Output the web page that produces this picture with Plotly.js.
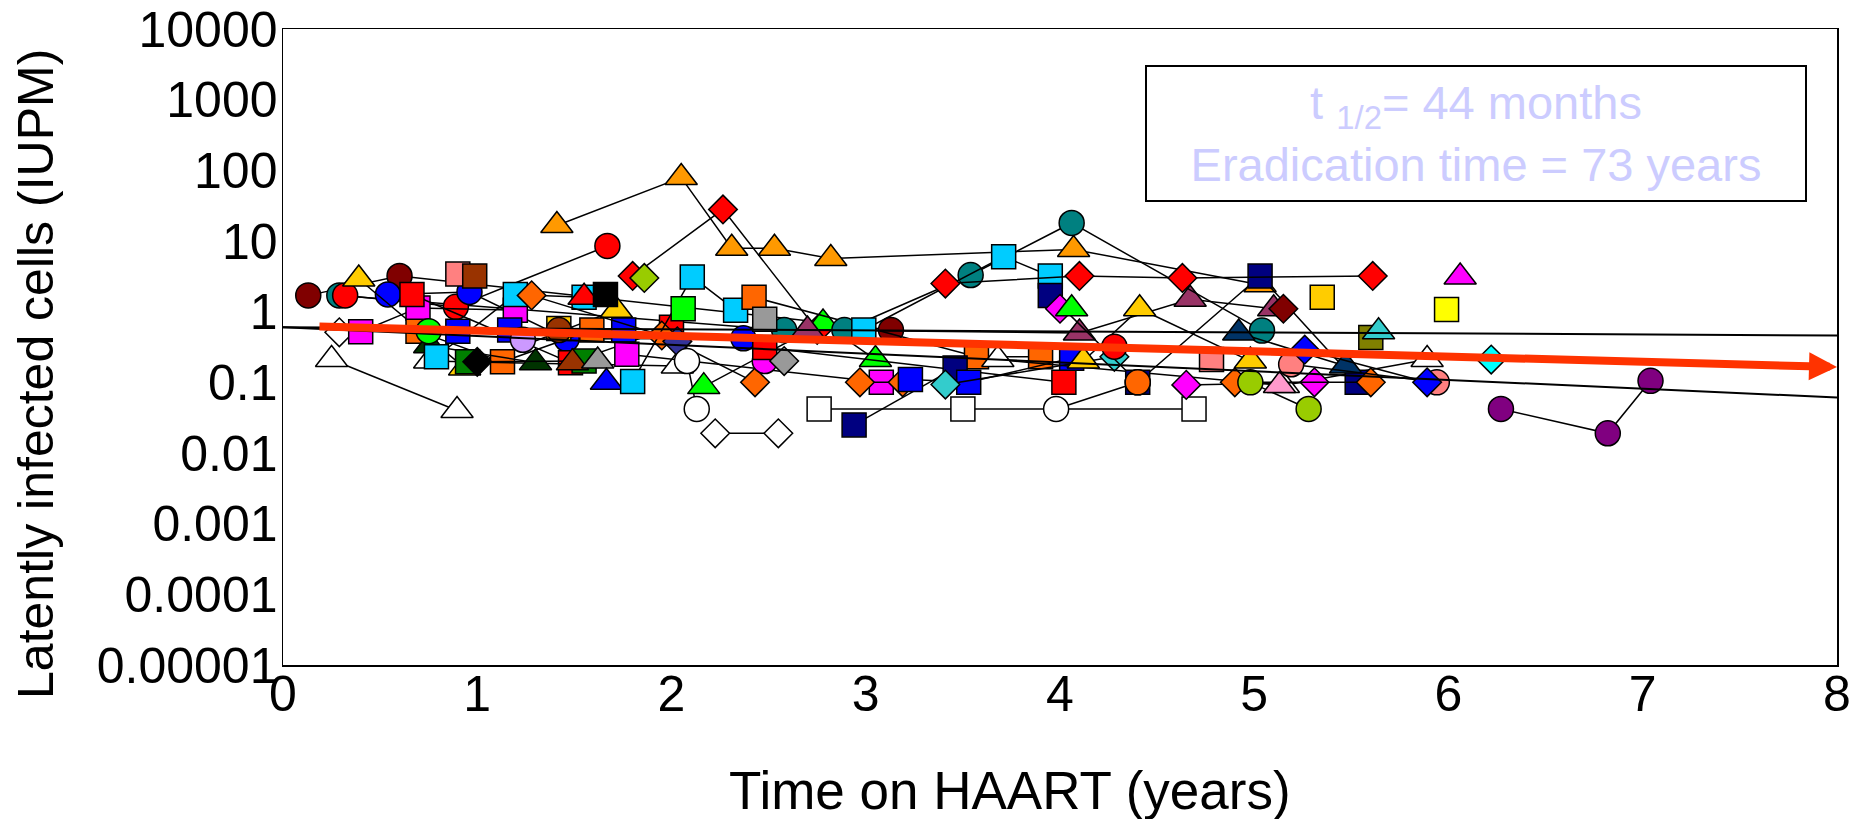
<!DOCTYPE html>
<html>
<head>
<meta charset="utf-8">
<script src="https://cdn.plot.ly/plotly-3.0.1.min.js"></script>
<style>html,body{margin:0;padding:0;background:#fff;}#chart{width:1864px;height:819px;}</style>
</head>
<body>
<div id="chart"></div>
<script>
// ---------- axis tick labels ----------
const xTickVals = [0, 1, 2, 3, 4, 5, 6, 7, 8];
const yTickVals = [0.00001, 0.0001, 0.001, 0.01, 0.1, 1, 10, 100, 1000, 10000];
const yTickText = ['0.00001', '0.0001', '0.001', '0.01', '0.1', '1', '10', '100', '1000', '10000'];

// ---------- patient data: time on HAART (years), IUPM ----------
const maroonCircle_t = [0.13, 0.60, 3.13];        const maroonCircle_v = [1.7, 3.2, 0.55];
const tealCircleA_t = [0.29, 2.58];               const tealCircleA_v = [1.7, 0.55];
const tealCircleB_t = [2.89, 3.54, 4.06, 5.04];   const tealCircleB_v = [0.55, 3.3, 18, 0.54];
const redCircleA_t = [0.32, 0.89, 1.67];          const redCircleA_v = [1.7, 1.17, 8.5];
const redCircleB_t = [4.28];                      const redCircleB_v = [0.32];
const blueCircle_t = [0.54, 0.96, 1.46, 2.37];    const blueCircle_v = [1.75, 1.9, 0.41, 0.42];
const whiteCircleA_t = [2.08, 2.13];              const whiteCircleA_v = [0.2, 0.042];
const whiteCircleB_t = [3.98, 4.40];              const whiteCircleB_v = [0.042, 0.1];
const limeCircle_t = [0.75];                      const limeCircle_v = [0.53];
const lavenderCircle_t = [1.235];                 const lavenderCircle_v = [0.4];
const brownCircle_t = [1.42];                     const brownCircle_v = [0.55];
const magentaCircle_t = [2.48];                   const magentaCircle_v = [0.2];
const orangeCircle_t = [4.40];                    const orangeCircle_v = [0.1];
const ygCircle_t = [4.98, 5.28];                  const ygCircle_v = [0.1, 0.042];
const salmonCircle_t = [5.19, 5.94];              const salmonCircle_v = [0.18, 0.1];
const purpleCircle_t = [6.27, 6.82, 7.04];        const purpleCircle_v = [0.042, 0.019, 0.105];

const magentaSqA_t = [0.40, 0.695, 1.196];        const magentaSqA_v = [0.52, 1.13, 1.05];
const magentaSqB_t = [1.77, 3.08];                const magentaSqB_v = [0.25, 0.1];
const redSqA_t = [0.664, 1.48, 2.0];              const redSqA_v = [1.75, 0.19, 0.6];
const redSqB_t = [2.48, 4.02];                    const redSqB_v = [0.31, 0.1];
const orangeSqA_t = [0.695, 1.13, 1.59];          const orangeSqA_v = [0.53, 0.195, 0.55];
const orangeSqB_t = [2.425, 3.57, 3.90];          const orangeSqB_v = [1.6, 0.23, 0.23];
const cyanSqA_t = [0.79, 1.196, 1.55];            const cyanSqA_v = [0.23, 1.75, 1.6];
const cyanSqB_t = [1.80, 2.107, 2.33];            const cyanSqB_v = [0.103, 3.1, 1.05];
const cyanSqC_t = [2.99, 3.71, 3.95];             const cyanSqC_v = [0.55, 6.0, 3.2];
const salmonSqA_t = [0.90];                       const salmonSqA_v = [3.4];
const salmonSqB_t = [4.78];                       const salmonSqB_v = [0.21];
const brownSq_t = [0.987];                        const brownSq_v = [3.2];
const blueSqA_t = [0.90, 1.167, 1.754];           const blueSqA_v = [0.53, 0.55, 0.55];
const blueSqB_t = [3.23, 3.53, 4.06];             const blueSqB_v = [0.11, 0.1, 0.22];
const greenSq_t = [0.95, 1.55];                   const greenSq_v = [0.195, 0.2];
const blackSq_t = [1.66];                         const blackSq_v = [1.75];
const goldSqA_t = [1.42];                         const goldSqA_v = [0.58];
const goldSqB_t = [5.35];                         const goldSqB_v = [1.6];
const limeSq_t = [2.06];                          const limeSq_v = [1.1];
const graySq_t = [2.48];                          const graySq_v = [0.78];
const navySqA_t = [2.94, 3.46];                   const navySqA_v = [0.025, 0.16];
const navySqB_t = [3.95, 4.40, 5.03, 5.53];       const navySqB_v = [1.7, 0.1, 3.2, 0.1];
const whiteSq_t = [2.76, 3.50, 4.69];             const whiteSq_v = [0.042, 0.042, 0.042];
const oliveSq_t = [5.60];                         const oliveSq_v = [0.43];
const yellowSq_t = [5.99];                        const yellowSq_v = [1.07];

const whiteTriA_t = [0.25, 0.896];                const whiteTriA_v = [0.21, 0.04];
const whiteTriB_t = [0.755, 2.03];                const whiteTriB_v = [0.2, 0.17];
const whiteTriC_t = [3.68, 5.15, 5.89];           const whiteTriC_v = [0.21, 0.09, 0.21];
const goldTriA_t = [0.39, 0.935, 1.716];          const goldTriA_v = [2.9, 0.16, 1.05];
const goldTriB_t = [4.12, 4.41, 4.98];            const goldTriB_v = [0.2, 1.1, 0.2];
const orangeTri_t = [1.41, 2.05, 2.31, 2.53, 2.82, 4.07, 5.03];
const orangeTri_v = [16.6, 79, 7.9, 7.9, 5.65, 7.6, 2.4];
const dkGreenTri_t = [0.755, 1.30];               const dkGreenTri_v = [0.33, 0.19];
const brownTri_t = [1.49];                        const brownTri_v = [0.19];
const redTri_t = [1.55];                          const redTri_v = [1.6];
const grayTri_t = [1.62];                         const grayTri_v = [0.2];
const blueTri_t = [1.665];                        const blueTri_v = [0.1];
const limeTriA_t = [2.166, 2.78, 3.05];           const limeTriA_v = [0.087, 0.69, 0.21];
const limeTriB_t = [4.06];                        const limeTriB_v = [1.1];
const plumTri_t = [2.70, 4.10, 4.67, 5.10];       const plumTri_v = [0.55, 0.5, 1.5, 1.1];
const navyTri_t = [4.92, 5.47];                   const navyTri_v = [0.5, 0.17];
const pinkTri_t = [5.13];                         const pinkTri_v = [0.09];
const turqTri_t = [5.64];                         const turqTri_v = [0.52];
const magentaTri_t = [6.06];                      const magentaTri_v = [3.1];

const whiteDiaA_t = [0.29];                       const whiteDiaA_v = [0.51];
const whiteDiaB_t = [2.225, 2.55];                const whiteDiaB_v = [0.019, 0.019];
const blackDia_t = [1.0];                         const blackDia_v = [0.195];
const orangeDiaA_t = [1.28, 1.95, 2.43];          const orangeDiaA_v = [1.7, 0.46, 0.1];
const orangeDiaB_t = [2.97, 3.19];                const orangeDiaB_v = [0.1, 0.1];
const orangeDiaC_t = [4.90, 5.60];                const orangeDiaC_v = [0.1, 0.1];
const redDiaA_t = [1.80, 2.265, 2.75];            const redDiaA_v = [3.2, 28, 0.55];
const redDiaB_t = [3.41, 4.10, 4.63, 5.61];       const redDiaB_v = [2.5, 3.2, 3.0, 3.2];
const ygDia_t = [1.86];                           const ygDia_v = [3.0];
const indigoDia_t = [2.03];                       const indigoDia_v = [0.38];
const grayDia_t = [2.58];                         const grayDia_v = [0.2];
const turqDia_t = [3.41, 4.28];                   const turqDia_v = [0.093, 0.23];
const magentaDiaA_t = [4.0];                      const magentaDiaA_v = [1.1];
const magentaDiaB_t = [4.65, 5.31];               const magentaDiaB_v = [0.092, 0.1];
const maroonDia_t = [5.15];                       const maroonDia_v = [1.1];
const blueDia_t = [5.26, 5.89];                   const blueDia_v = [0.29, 0.1];
const cyanDia_t = [6.22];                         const cyanDia_v = [0.21];

// ---------- fitted decay and bounds ----------
const fit_t = [0.18, 8];        const fit_v = [0.62, 0.165];
const upper_t = [0, 8];         const upper_v = [0.6, 0.46];
const lower_t = [0, 8];         const lower_v = [0.6, 0.061];

// ---------- table linking data with marker style ----------
const patients = [
  [maroonCircle_t, maroonCircle_v, 'circle', '#800000'],
  [tealCircleA_t, tealCircleA_v, 'circle', '#008080'],
  [redCircleA_t, redCircleA_v, 'circle', '#FF0000'],
  [blueCircle_t, blueCircle_v, 'circle', '#0000FF'],
  [whiteTriA_t, whiteTriA_v, 'triangle-up', '#FFFFFF'],
  [whiteDiaA_t, whiteDiaA_v, 'diamond', '#FFFFFF'],
  [goldTriA_t, goldTriA_v, 'triangle-up', '#FFCC00'],
  [magentaSqA_t, magentaSqA_v, 'square', '#FF00FF'],
  [redSqA_t, redSqA_v, 'square', '#FF0000'],
  [orangeSqA_t, orangeSqA_v, 'square', '#FF6600'],
  [whiteTriB_t, whiteTriB_v, 'triangle-up', '#FFFFFF'],
  [dkGreenTri_t, dkGreenTri_v, 'triangle-up', '#003300'],
  [limeCircle_t, limeCircle_v, 'circle', '#00FF00'],
  [cyanSqA_t, cyanSqA_v, 'square', '#00CCFF'],
  [salmonSqA_t, salmonSqA_v, 'square', '#FF8080'],
  [brownSq_t, brownSq_v, 'square', '#993300'],
  [blueSqA_t, blueSqA_v, 'square', '#0000FF'],
  [greenSq_t, greenSq_v, 'square', '#008000'],
  [blackDia_t, blackDia_v, 'diamond', '#000000'],
  [orangeDiaA_t, orangeDiaA_v, 'diamond', '#FF6600'],
  [lavenderCircle_t, lavenderCircle_v, 'circle', '#CC99FF'],
  [goldSqA_t, goldSqA_v, 'square', '#FFCC00'],
  [brownCircle_t, brownCircle_v, 'circle', '#993300'],
  [orangeTri_t, orangeTri_v, 'triangle-up', '#FF9900'],
  [redTri_t, redTri_v, 'triangle-up', '#FF0000'],
  [brownTri_t, brownTri_v, 'triangle-up', '#993300'],
  [grayTri_t, grayTri_v, 'triangle-up', '#999999'],
  [blackSq_t, blackSq_v, 'square', '#000000'],
  [blueTri_t, blueTri_v, 'triangle-up', '#0000FF'],
  [magentaSqB_t, magentaSqB_v, 'square', '#FF00FF'],
  [cyanSqB_t, cyanSqB_v, 'square', '#00CCFF'],
  [redDiaA_t, redDiaA_v, 'diamond', '#FF0000'],
  [ygDia_t, ygDia_v, 'diamond', '#99CC00'],
  [indigoDia_t, indigoDia_v, 'diamond', '#333399'],
  [whiteCircleA_t, whiteCircleA_v, 'circle', '#FFFFFF'],
  [whiteDiaB_t, whiteDiaB_v, 'diamond', '#FFFFFF'],
  [limeSq_t, limeSq_v, 'square', '#00FF00'],
  [limeTriA_t, limeTriA_v, 'triangle-up', '#00FF00'],
  [orangeSqB_t, orangeSqB_v, 'square', '#FF6600'],
  [graySq_t, graySq_v, 'square', '#999999'],
  [magentaCircle_t, magentaCircle_v, 'circle', '#FF00FF'],
  [redSqB_t, redSqB_v, 'square', '#FF0000'],
  [grayDia_t, grayDia_v, 'diamond', '#999999'],
  [plumTri_t, plumTri_v, 'triangle-up', '#993366'],
  [tealCircleB_t, tealCircleB_v, 'circle', '#008080'],
  [cyanSqC_t, cyanSqC_v, 'square', '#00CCFF'],
  [whiteSq_t, whiteSq_v, 'square', '#FFFFFF'],
  [navySqA_t, navySqA_v, 'square', '#000080'],
  [orangeDiaB_t, orangeDiaB_v, 'diamond', '#FF6600'],
  [blueSqB_t, blueSqB_v, 'square', '#0000FF'],
  [turqDia_t, turqDia_v, 'diamond', '#33CCCC'],
  [whiteTriC_t, whiteTriC_v, 'triangle-up', '#FFFFFF'],
  [whiteCircleB_t, whiteCircleB_v, 'circle', '#FFFFFF'],
  [navySqB_t, navySqB_v, 'square', '#000080'],
  [redDiaB_t, redDiaB_v, 'diamond', '#FF0000'],
  [magentaDiaA_t, magentaDiaA_v, 'diamond', '#FF00FF'],
  [limeTriB_t, limeTriB_v, 'triangle-up', '#00FF00'],
  [goldTriB_t, goldTriB_v, 'triangle-up', '#FFCC00'],
  [redCircleB_t, redCircleB_v, 'circle', '#FF0000'],
  [orangeCircle_t, orangeCircle_v, 'circle', '#FF6600'],
  [magentaDiaB_t, magentaDiaB_v, 'diamond', '#FF00FF'],
  [salmonSqB_t, salmonSqB_v, 'square', '#FF8080'],
  [navyTri_t, navyTri_v, 'triangle-up', '#003366'],
  [orangeDiaC_t, orangeDiaC_v, 'diamond', '#FF6600'],
  [ygCircle_t, ygCircle_v, 'circle', '#99CC00'],
  [pinkTri_t, pinkTri_v, 'triangle-up', '#FF99CC'],
  [maroonDia_t, maroonDia_v, 'diamond', '#800000'],
  [salmonCircle_t, salmonCircle_v, 'circle', '#FF8080'],
  [blueDia_t, blueDia_v, 'diamond', '#0000FF'],
  [goldSqB_t, goldSqB_v, 'square', '#FFCC00'],
  [oliveSq_t, oliveSq_v, 'square', '#808000'],
  [turqTri_t, turqTri_v, 'triangle-up', '#33CCCC'],
  [yellowSq_t, yellowSq_v, 'square', '#FFFF00'],
  [magentaTri_t, magentaTri_v, 'triangle-up', '#FF00FF'],
  [cyanDia_t, cyanDia_v, 'diamond', '#00FFFF'],
  [purpleCircle_t, purpleCircle_v, 'circle', '#800080']
];

const SIZES = {'circle': 25, 'square': 24, 'triangle-up': 28, 'diamond': 22};
const FONT = 'Liberation Sans, Arial, sans-serif';

const traces = patients.map(p => ({
  type: 'scatter',
  mode: p[0].length > 1 ? 'lines+markers' : 'markers',
  x: p[0], y: p[1],
  line: {color: '#000000', width: 1.5},
  marker: {symbol: p[2], color: p[3], size: SIZES[p[2]], line: {color: '#000000', width: 1.5}},
  cliponaxis: false,
  hoverinfo: 'x+y'
}));

traces.push({type: 'scatter', mode: 'lines', x: upper_t, y: upper_v, line: {color: '#000', width: 2}, hoverinfo: 'skip'});
traces.push({type: 'scatter', mode: 'lines', x: lower_t, y: lower_v, line: {color: '#000', width: 2}, hoverinfo: 'skip'});

const layout = {
  width: 1864, height: 819,
  margin: {l: 283, r: 27, t: 29, b: 154, pad: 0},
  paper_bgcolor: '#fff', plot_bgcolor: '#fff',
  showlegend: false,
  font: {family: FONT, color: '#000'},
  xaxis: {
    range: [0, 8], tickvals: xTickVals, ticks: '',
    showgrid: false, zeroline: false,
    showline: true, mirror: true, linecolor: '#000', linewidth: 1.5,
    tickfont: {family: FONT, size: 50, color: '#000'},
    ticklabelstandoff: -16
  },
  yaxis: {
    type: 'log', range: [-5, 4], tickvals: yTickVals, ticktext: yTickText, ticks: '',
    showgrid: false, zeroline: false,
    showline: true, mirror: true, linecolor: '#000', linewidth: 1.5,
    tickfont: {family: FONT, size: 50, color: '#000'},
    ticklabelstandoff: -6
  },
  annotations: [
    {
      xref: 'x', yref: 'y', axref: 'x', ayref: 'y',
      x: fit_t[1], y: Math.log10(fit_v[1]),
      ax: fit_t[0], ay: Math.log10(fit_v[0]),
      text: '', showarrow: true, arrowhead: 2, arrowsize: 0.7, arrowwidth: 8,
      arrowcolor: '#FF3300', standoff: 0
    },
    {
      xref: 'paper', yref: 'paper', x: 0.7677, y: 0.8357, xanchor: 'center', yanchor: 'middle',
      text: 't <sub>1/2</sub>= 44 months<br>Eradication time = 73 years',
      showarrow: false, align: 'center',
      font: {family: FONT, size: 47, color: '#CCCCFF'},
      width: 656, height: 131, bordercolor: '#000', borderwidth: 2, borderpad: 1, bgcolor: '#fff'
    },
    {
      xref: 'paper', yref: 'paper', x: 0.4678, y: -0.198, xanchor: 'center', yanchor: 'middle',
      text: 'Time on HAART (years)', showarrow: false,
      font: {family: FONT, size: 53, color: '#000'}
    },
    {
      xref: 'paper', yref: 'paper', x: -0.159, y: 0.4575, xanchor: 'center', yanchor: 'middle',
      text: 'Latently infected cells (IUPM)', showarrow: false, textangle: -90,
      font: {family: FONT, size: 50, color: '#000'}
    }
  ]
};

Plotly.newPlot('chart', traces, layout, {displayModeBar: false, staticPlot: true});
</script>
</body>
</html>
